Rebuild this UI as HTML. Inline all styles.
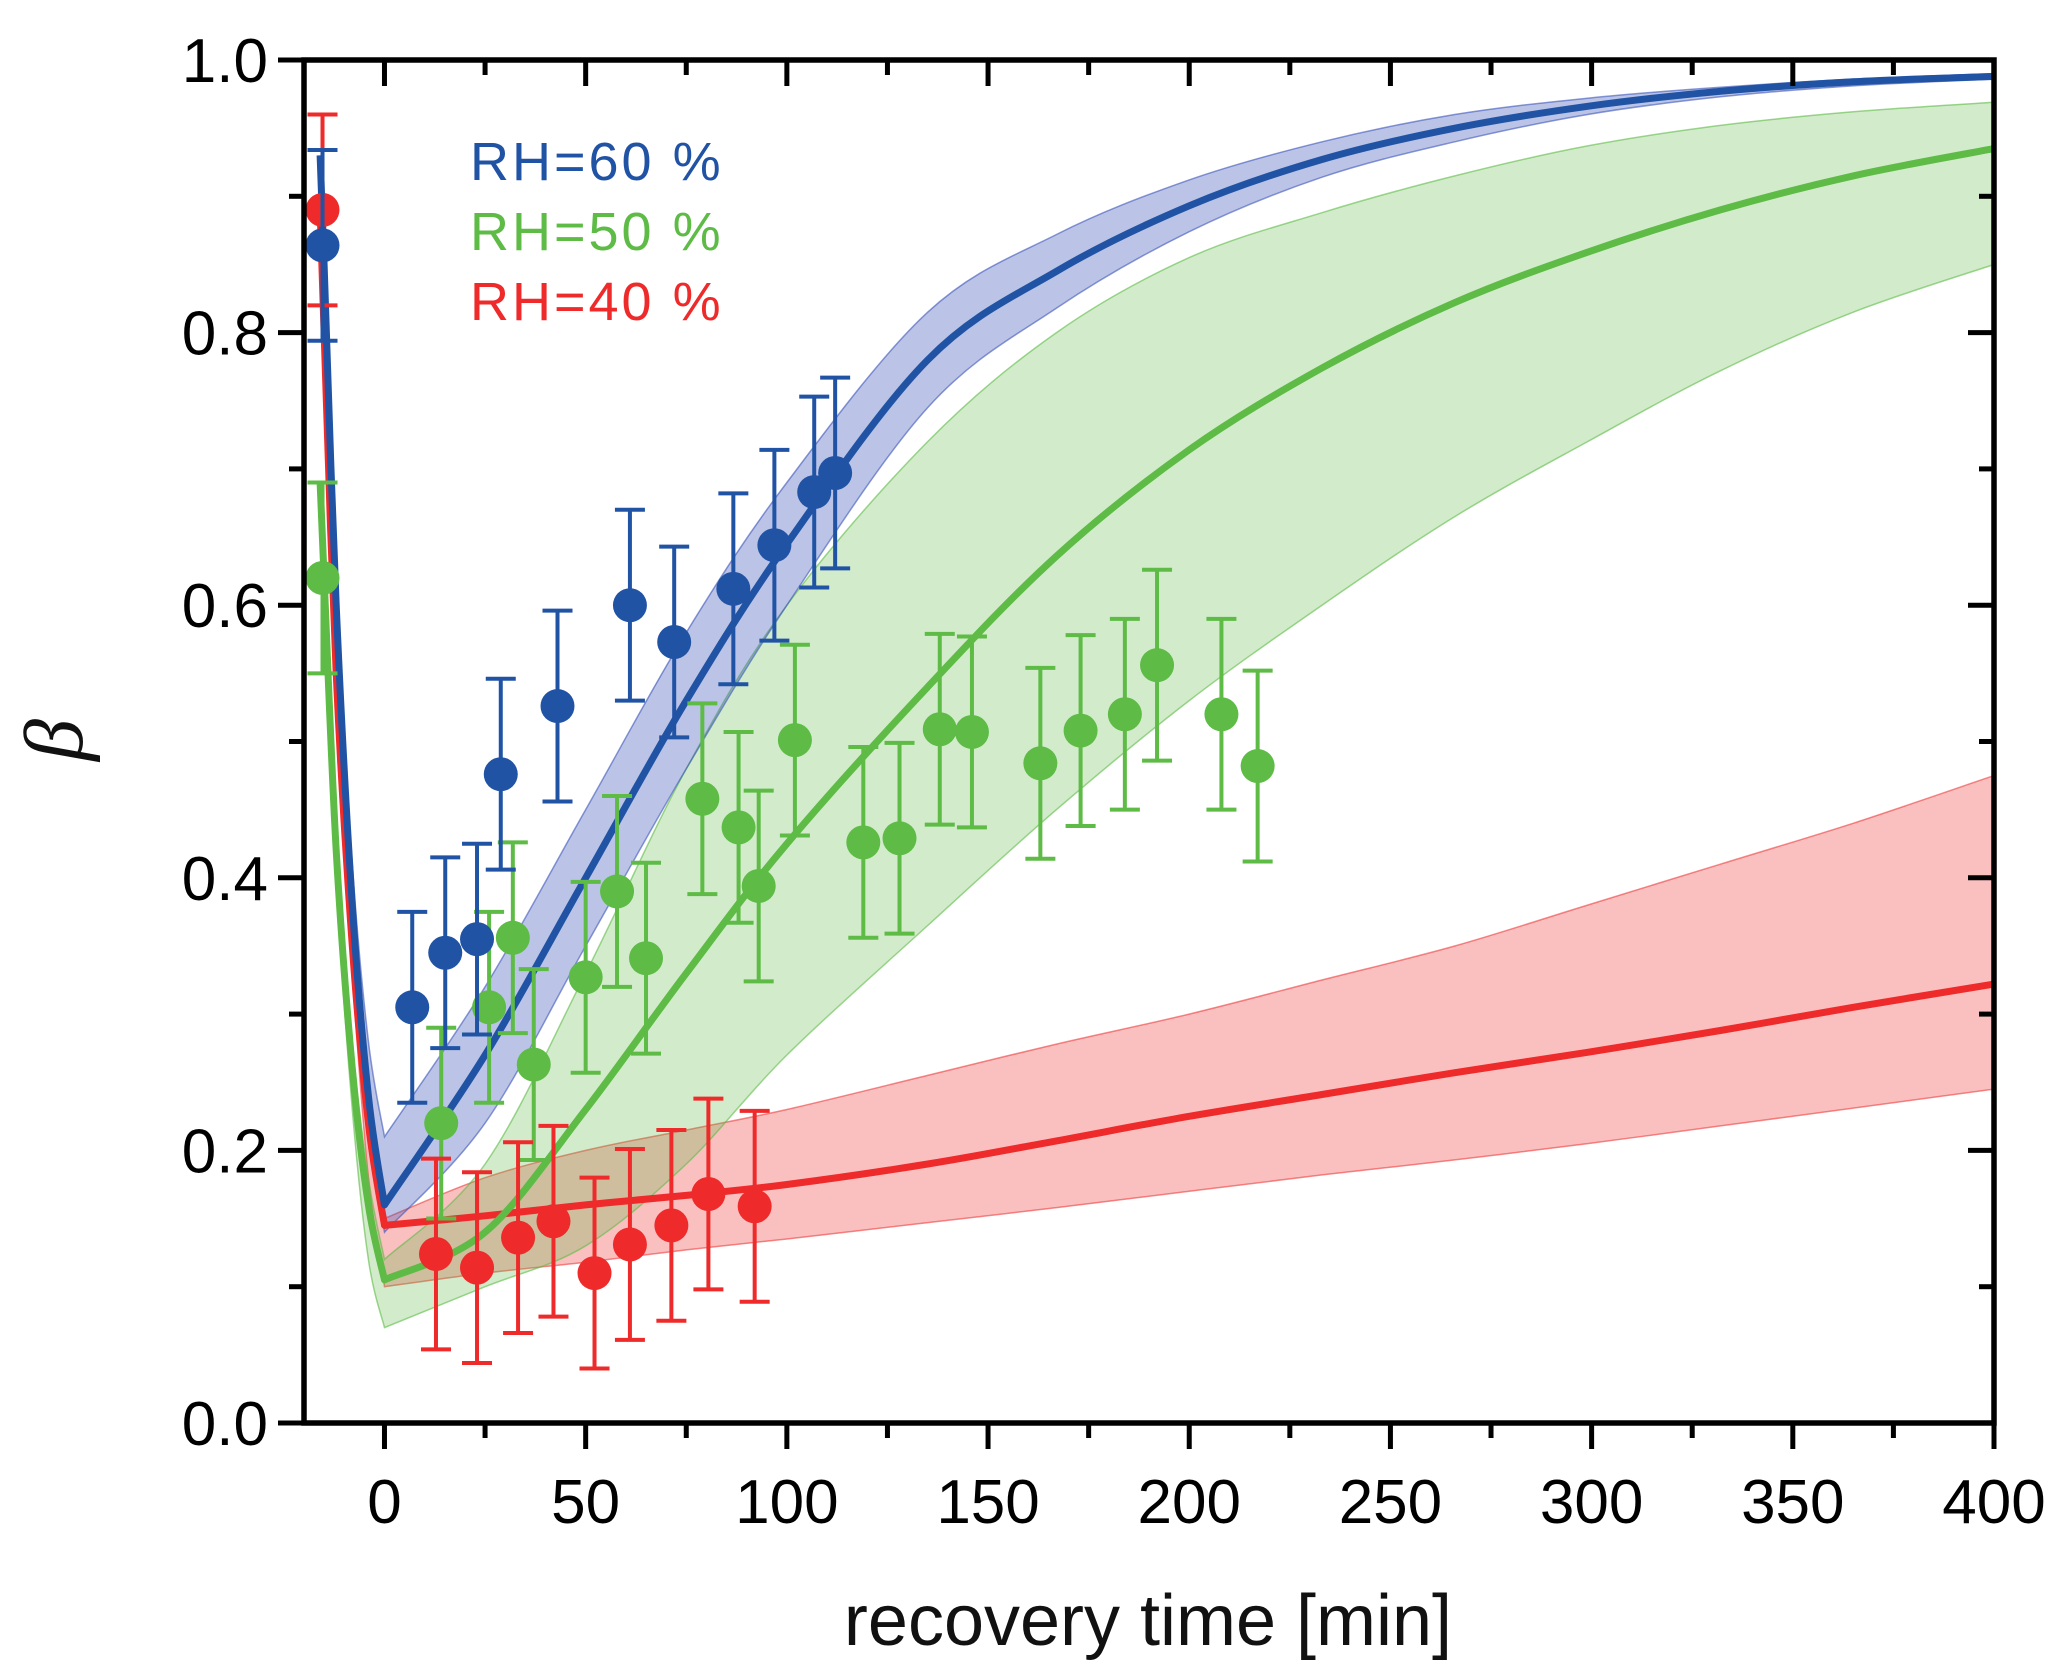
<!DOCTYPE html>
<html><head><meta charset="utf-8"><style>
html,body{margin:0;padding:0;background:#fff;}
svg{display:block;font-family:"Liberation Sans",sans-serif;}
</style></head><body>
<svg id="chart" width="2067" height="1674" viewBox="0 0 2067 1674" xmlns="http://www.w3.org/2000/svg">
<g id="bands"></g>
<g id="lines"></g>
<g id="points"></g>
<g id="axes"></g>
<g font-size="54" letter-spacing="3">
<text x="470" y="180" fill="#2153a5">RH=60 %</text>
<text x="470" y="250" fill="#5dbb46">RH=50 %</text>
<text x="470" y="320" fill="#ee2a2a">RH=40 %</text>
</g>
<text x="1148" y="1645" font-size="72" text-anchor="middle" fill="#111">recovery time [min]</text>
<text x="0" y="0" font-size="84" font-style="italic" font-family="Liberation Serif,serif" text-anchor="middle" fill="#111" transform="translate(82,740) rotate(-90)">β</text>
</svg>
<script>
const xTicks=[0,50,100,150,200,250,300,350,400];
const yTicks=[0.0,0.2,0.4,0.6,0.8,1.0];
const yTickLabels=["0.0","0.2","0.4","0.6","0.8","1.0"];
// data points
const blueT=[-15.4,6.9,15.1,23,28.9,43,61,72,86.7,96.9,106.8,112];
const blueV=[0.864,0.305,0.345,0.355,0.476,0.526,0.60,0.573,0.612,0.644,0.683,0.697];
const blueE=[0.07,0.07,0.07,0.07,0.07,0.07,0.07,0.07,0.07,0.07,0.07,0.07];
const greenT=[-15.4,14.1,26,31.9,37.1,50,57.8,65,79,88,93,102,119,128,138,146,163,173,184,192,208,217];
const greenV=[0.62,0.22,0.305,0.356,0.263,0.327,0.39,0.341,0.458,0.437,0.394,0.501,0.426,0.429,0.509,0.507,0.484,0.508,0.52,0.556,0.52,0.482];
const greenE=[0.07,0.07,0.07,0.07,0.07,0.07,0.07,0.07,0.07,0.07,0.07,0.07,0.07,0.07,0.07,0.07,0.07,0.07,0.07,0.07,0.07,0.07];
const redT=[-15.4,12.8,23,33.2,42,52.2,61,71.3,80.5,92];
const redV=[0.89,0.124,0.114,0.136,0.148,0.11,0.131,0.145,0.168,0.159];
const redE=[0.07,0.07,0.07,0.07,0.07,0.07,0.07,0.07,0.07,0.07];
// fit curves (pre-zero part: indices 0..5, post-zero: 5..end)
const fitT=[-16,-15,-12,-8,-4,0,25,50,75,100,135,167,200,233,266,299,332,365,400];
const blueFit=[0.93,0.85,0.6,0.38,0.24,0.16,0.27,0.40,0.53,0.645,0.78,0.845,0.893,0.927,0.95,0.966,0.977,0.984,0.988];
const blueUp=[0.93,0.86,0.62,0.41,0.28,0.21,0.32,0.45,0.58,0.69,0.815,0.872,0.912,0.94,0.96,0.972,0.98,0.986,0.99];
const blueLo=[0.93,0.84,0.58,0.35,0.21,0.14,0.22,0.35,0.48,0.60,0.745,0.818,0.874,0.914,0.94,0.96,0.973,0.981,0.986];
const greenFit=[0.69,0.62,0.42,0.26,0.16,0.105,0.14,0.23,0.33,0.425,0.54,0.636,0.714,0.774,0.822,0.859,0.89,0.915,0.935];
const greenUp=[0.69,0.63,0.44,0.28,0.18,0.12,0.19,0.33,0.48,0.60,0.72,0.80,0.855,0.888,0.915,0.937,0.952,0.962,0.969];
const greenLo=[0.69,0.61,0.40,0.23,0.12,0.07,0.10,0.13,0.19,0.27,0.365,0.45,0.53,0.60,0.665,0.72,0.772,0.815,0.85];
const redFit=[0.89,0.80,0.55,0.35,0.22,0.145,0.152,0.16,0.167,0.175,0.19,0.207,0.225,0.241,0.257,0.272,0.288,0.305,0.322];
const redUp=[0.89,0.81,0.57,0.37,0.24,0.15,0.18,0.20,0.215,0.23,0.255,0.278,0.30,0.325,0.35,0.38,0.41,0.44,0.475];
const redLo=[0.89,0.79,0.53,0.33,0.18,0.10,0.11,0.118,0.127,0.135,0.147,0.158,0.17,0.182,0.193,0.205,0.218,0.231,0.245];

const L=304,R=1994,T=60,B=1423,X0=-20,X1=400;
const sx=t=>L+(t-X0)*(R-L)/(X1-X0);
const sy=v=>B-v*(B-T);
const NS="http://www.w3.org/2000/svg";
function mk(tag,parent,attrs){const e=document.createElementNS(NS,tag);for(const k in attrs)e.setAttribute(k,attrs[k]);parent.appendChild(e);return e;}
const bands=document.getElementById('bands'),lines=document.getElementById('lines'),pts=document.getElementById('points'),axes=document.getElementById('axes');
// smooth (Catmull-Rom) through pixel points; cont=true continues path with L
function smooth(P,cont){
 let d=(cont?'L':'M')+P[0][0].toFixed(1)+','+P[0][1].toFixed(1);
 for(let i=0;i<P.length-1;i++){
  const p0=P[Math.max(i-1,0)],p1=P[i],p2=P[i+1],p3=P[Math.min(i+2,P.length-1)];
  const c1=[p1[0]+(p2[0]-p0[0])/6,p1[1]+(p2[1]-p0[1])/6],c2=[p2[0]-(p3[0]-p1[0])/6,p2[1]-(p3[1]-p1[1])/6];
  d+=` C${c1[0].toFixed(1)},${c1[1].toFixed(1)} ${c2[0].toFixed(1)},${c2[1].toFixed(1)} ${p2[0].toFixed(1)},${p2[1].toFixed(1)}`;
 }
 return d;
}
const Z=fitT.indexOf(0);
function pix(ts,vs){return ts.map((t,i)=>[sx(t),sy(vs[i])]);}
function curve(vs,cont){
 const P=pix(fitT,vs);
 return smooth(P.slice(0,Z+1),cont)+' '+smooth(P.slice(Z),true);
}
function curveRev(vs){
 const P=pix(fitT,vs).reverse();const n=P.length-1-Z;
 return smooth(P.slice(0,n+1),true)+' '+smooth(P.slice(n),true);
}
function band(name,up,lo,fill,stroke){
 const d=curve(up,false)+' '+curveRev(lo)+' Z';
 const p=mk('path',bands,{d:d,fill:fill,stroke:stroke,'stroke-width':1.5});
 
 
}
band('band-rh40',redUp,redLo,'rgba(238,60,60,0.32)','rgba(238,60,60,0.6)');
band('band-rh50',greenUp,greenLo,'rgba(93,187,70,0.28)','rgba(93,187,70,0.6)');
band('band-rh60',blueUp,blueLo,'rgba(60,85,185,0.35)','rgba(60,85,185,0.6)');
function line(name,vs,col){
 const p=mk('path',lines,{d:curve(vs,false),fill:'none',stroke:col,'stroke-width':7,'stroke-linejoin':'round'});
 
 
}
line('fit-line-rh40',redFit,'#ee2a2a');
line('fit-line-rh50',greenFit,'#5dbb46');
line('fit-line-rh60',blueFit,'#2153a5');
function series(name,ts,vs,es,col){
 const g=mk('g',pts,{});
 
 
 ts.forEach((t,i)=>{
  const x=sx(t),y1=sy(vs[i]+es[i]),y2=sy(vs[i]-es[i]);
  const eb=mk('path',g,{d:`M${x},${y1} L${x},${y2} M${x-15},${y1} L${x+15},${y1} M${x-15},${y2} L${x+15},${y2}`,stroke:col,'stroke-width':4,fill:'none'});
  
  
  const c=mk('circle',g,{cx:x,cy:sy(vs[i]),r:17,fill:col});
  
  
 });
}
series('series-rh50',greenT,greenV,greenE,'#5dbb46');
series('series-rh40',redT,redV,redE,'#ee2a2a');
series('series-rh60',blueT,blueV,blueE,'#2153a5');
const fr=mk('rect',axes,{x:L,y:T,width:R-L,height:B-T,fill:'none',stroke:'#000','stroke-width':5.5});


xTicks.forEach((t,i)=>{
 const x=sx(t);
 mk('line',axes,{x1:x,y1:B,x2:x,y2:B+26,stroke:'#000','stroke-width':5});
 mk('line',axes,{x1:x,y1:T,x2:x,y2:T+26,stroke:'#000','stroke-width':5});
 const mx=sx(t-25);
 if(t-25>X0){mk('line',axes,{x1:mx,y1:B,x2:mx,y2:B+15,stroke:'#000','stroke-width':5});mk('line',axes,{x1:mx,y1:T,x2:mx,y2:T+15,stroke:'#000','stroke-width':5});}
 const tx=mk('text',axes,{x:x,y:1523,'font-size':62,'text-anchor':'middle',fill:'#000'});
 tx.textContent=String(t);
 
 
});
yTicks.forEach((v,i)=>{
 const y=sy(v);
 mk('line',axes,{x1:L-26,y1:y,x2:L,y2:y,stroke:'#000','stroke-width':5});
 mk('line',axes,{x1:R-26,y1:y,x2:R,y2:y,stroke:'#000','stroke-width':5});
 if(i>0){const my=sy(v-0.1);mk('line',axes,{x1:L-15,y1:my,x2:L,y2:my,stroke:'#000','stroke-width':5});mk('line',axes,{x1:R-15,y1:my,x2:R,y2:my,stroke:'#000','stroke-width':5});}
 const tx=mk('text',axes,{x:L-36,y:y+22,'font-size':62,'text-anchor':'end',fill:'#000'});
 tx.textContent=yTickLabels[i];
 
 
});
</script>
</body></html>
